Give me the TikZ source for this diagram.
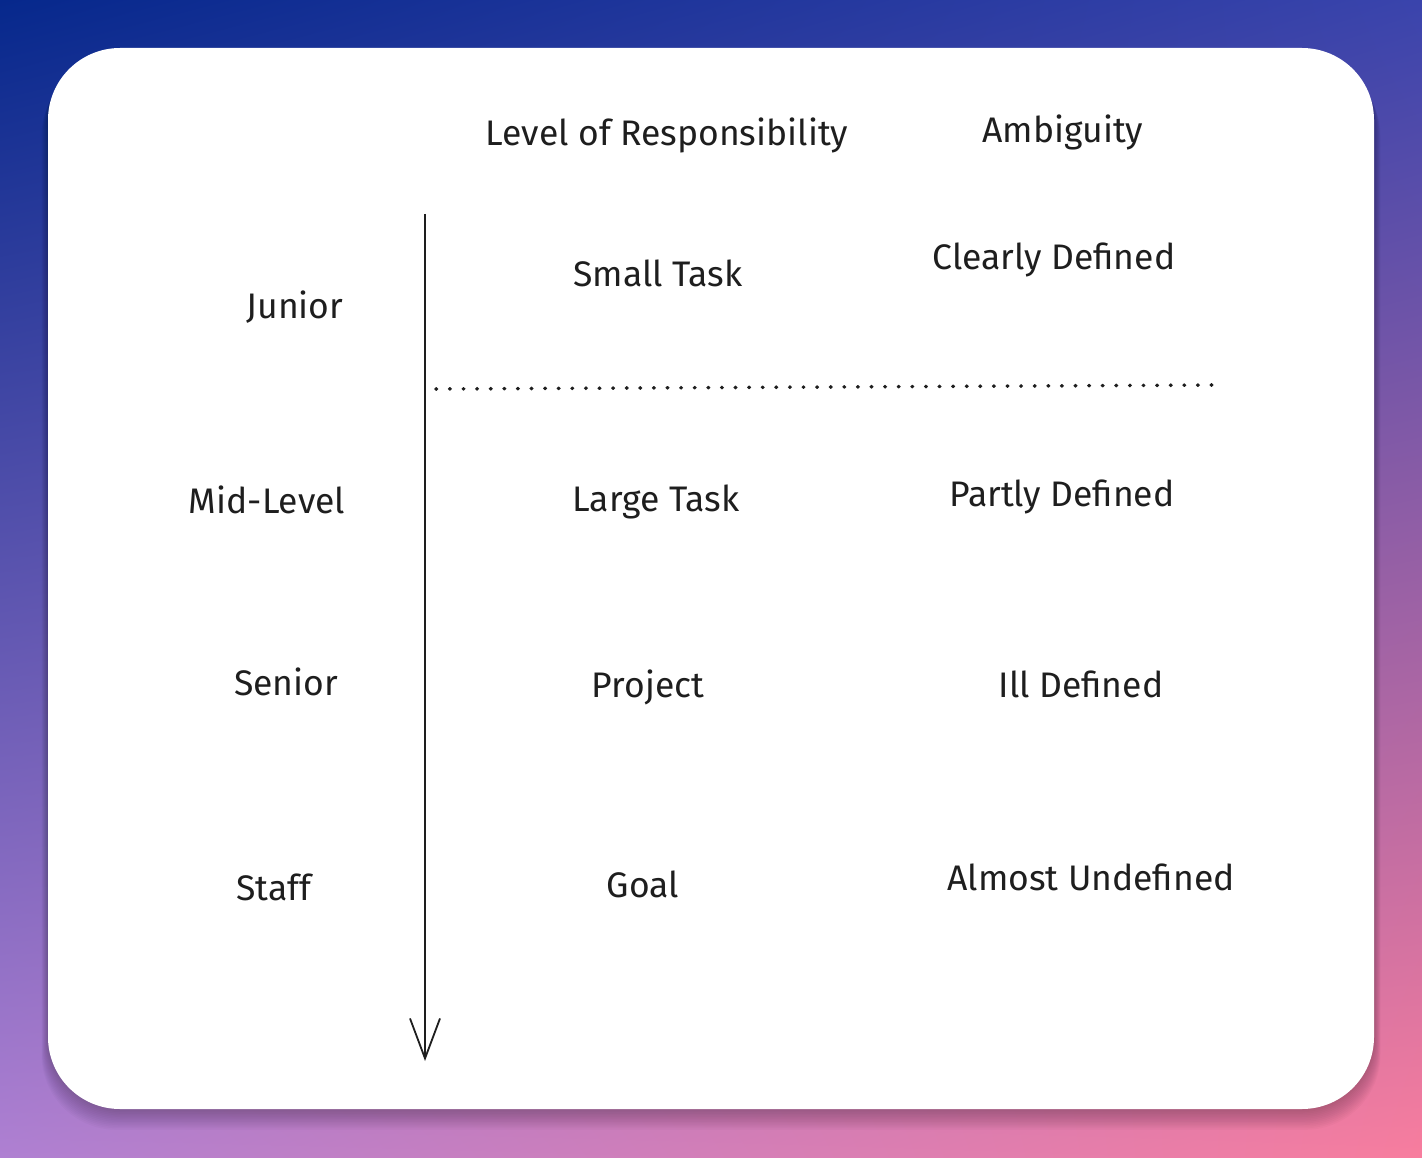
\documentclass[tikz,border=0pt]{standalone}
\usepackage{fontspec}
\setmainfont{Fira Sans}
\usetikzlibrary{arrows.meta,shadings}
\definecolor{bgTL}{RGB}{6,40,140}
\definecolor{bgTR}{RGB}{58,68,172}
\definecolor{bgBL}{RGB}{175,128,210}
\definecolor{bgBR}{RGB}{248,125,158}
\definecolor{ink}{RGB}{30,30,30}
\tikzset{
  lbl/.style={text=ink, font=\fontsize{35.5}{40}\selectfont, inner sep=0pt, anchor=center},
  axisline/.style={draw=ink, line width=1.8pt, -{Straight Barb[length=40pt,width=30pt,line width=1.8pt]}},
  sepline/.style={draw=ink, line width=3.6pt, line cap=round, dash pattern=on 0.6pt off 13pt}
}
\begin{document}
\begin{tikzpicture}[x=1pt,y=-1pt]
\useasboundingbox (0,0) rectangle (1422,1158);
\shade[upper left=bgTL, upper right=bgTR, lower left=bgBL, lower right=bgBR] (0,0) rectangle (1422,1158);
% card shadow
\foreach \o in {2,4,...,26}{
  \fill[black, opacity=0.02, rounded corners=75pt] (48-\o*0.25,48+\o*0.5) rectangle (1374+\o*0.25,1109+\o*0.8);
}
\fill[white, rounded corners=72pt] (48,48) rectangle (1374,1109);
% headers
\node[lbl] (hresp) at (667,135) {Level of Responsibility};
\node[lbl] (hamb) at (1063,132) {Ambiguity};
% rows
\node[lbl] (junior) at (295,307) {Junior};
\node[lbl] (mid) at (267,500) {Mid-Level};
\node[lbl] (senior) at (286,682) {Senior};
\node[lbl] (staff) at (274,887) {Staff};
\node[lbl] (small) at (658,273) {Small Task};
\node[lbl] (large) at (656,502) {Large Task};
\node[lbl] (project) at (648,687) {Project};
\node[lbl] (goal) at (643,884) {Goal};
\node[lbl] (clear) at (1054,260) {Clearly Defined};
\node[lbl] (partly) at (1062,497) {Partly Defined};
\node[lbl] (ill) at (1081,684) {Ill Defined};
\node[lbl] (almost) at (1091,877) {Almost Undefined};
% axis
\coordinate (atop) at (425,214);
\coordinate (abot) at (425,1061);
\draw[axisline] (atop) -- (abot);
% separator
\coordinate (sl) at (436,389);
\coordinate (sr) at (1221,385);
\draw[sepline] (sl) -- (sr);
\end{tikzpicture}
\end{document}
